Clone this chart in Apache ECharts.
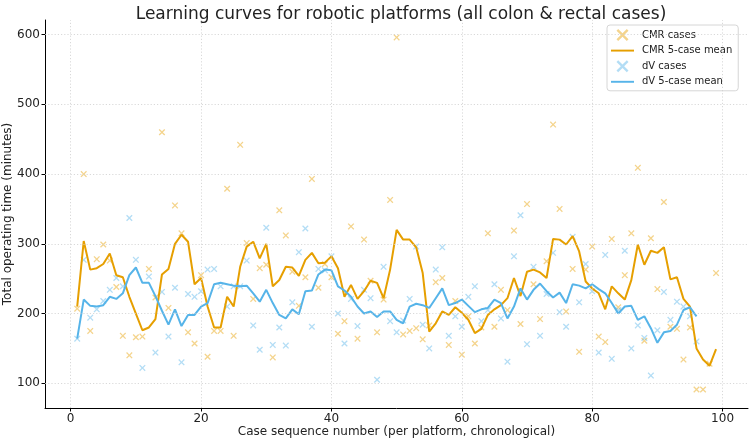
<!DOCTYPE html>
<html>
<head>
<meta charset="utf-8">
<script src="https://cdn.jsdelivr.net/npm/echarts@6/dist/echarts.min.js"></script>
<style>
  html, body { margin: 0; padding: 0; background: #fff; }
  #chart { width: 750px; height: 441px; }
</style>
</head>
<body>
<div id="chart"></div>
<script>
// operating time per case (case number = index + 1)
const cmrCases = [
  207, 400, 175, 278, 299, 276, 238, 168, 140, 166,
  167, 264, 223, 460, 208, 355, 315, 173, 157, 255,
  138, 175, 175, 379, 168, 442, 301, 221, 265, 270,
  137, 348, 312, 260, 211, 252, 393, 237, 271, 252,
  171, 189, 325, 164, 306, 247, 173, 220, 363, 596,
  170, 175, 179, 163, 183, 245, 251, 155, 218, 141,
  196, 157, 180, 315, 181, 234, 205, 319, 185, 357,
  242, 192, 275, 471, 350, 203, 264, 145, 263, 296,
  167, 159, 307, 209, 255, 315, 409, 161, 308, 235,
  360, 181, 178, 134, 180, 91, 91, 128, 258
];
const cmrMean = [
  210, 304, 263, 265, 271, 286, 255, 252, 224, 200,
  176, 180, 192, 256, 264, 300, 313, 303, 242, 251,
  210, 180, 180, 224, 210, 267, 296, 303, 279, 300,
  239, 248, 267, 266, 254, 277, 287, 272, 273, 282,
  265, 224, 241, 221, 232, 247, 244, 222, 263, 320,
  306, 306, 295, 258, 174, 186, 203, 198, 209, 201,
  191, 172, 178, 198, 206, 212, 222, 251, 225, 260,
  263, 259, 251, 307, 306, 299, 311, 289, 246, 236,
  229, 206, 239, 229, 220, 248, 299, 270, 290, 287,
  295, 249, 252, 221, 210, 150, 134, 125, 149
];
const dvCases = [
  164, 277, 194, 206, 218, 234, 251, 239, 337, 277,
  122, 253, 144, 231, 167, 237, 130, 228, 224, 232,
  263, 264, 239, 210, 239, 239, 276, 183, 148, 323,
  155, 180, 154, 216, 288, 322, 181, 264, 262, 282,
  200, 157, 221, 182, 234, 222, 105, 267, 189, 173,
  190, 221, 296, 184, 150, 263, 295, 168, 196, 181,
  224, 239, 189, 205, 242, 193, 131, 282, 341, 156,
  267, 168, 228, 287, 202, 181, 310, 216, 271, 232,
  144, 284, 135, 205, 290, 150, 183, 165, 111, 176,
  231, 191, 217, 210, 196, 160
];
const dvMean = [
  164, 220, 211, 210, 212, 224, 221, 229, 255, 266,
  244, 244, 225, 204, 184, 206, 182, 198, 198, 210,
  215, 242, 244, 242, 240, 239, 240, 229, 217, 234,
  215, 198, 193, 206, 199, 232, 233, 256, 263, 262,
  239, 233, 224, 210, 200, 203, 195, 203, 203, 191,
  186, 210, 214, 212, 208, 222, 236, 212, 215, 220,
  211, 202, 206, 208, 220, 215, 193, 210, 236, 220,
  234, 243, 232, 223, 230, 215, 242, 240, 236, 242,
  235, 229, 215, 200, 210, 211, 191, 196, 179, 158,
  173, 175, 184, 205, 209, 196
];
const xTicks = [0, 20, 40, 60, 80, 100];
const yTicks = [100, 200, 300, 400, 500, 600];

const ORANGE = '#E69F00';
const BLUE = '#56B4E9';
const FONT = 'DejaVu Sans';
const CROSS = 'path://M0,1.4 L1.4,0 L5,3.6 L8.6,0 L10,1.4 L6.4,5 L10,8.6 L8.6,10 L5,6.4 L1.4,10 L0,8.6 L3.6,5 Z';
const LINE_ICON = 'path://M0,4 L24,4 L24,6 L0,6 Z';

const toPoints = arr => arr.map((v, i) => [i + 1, v]);

const gridLine = { color: '#cfcfcf', width: 0.8, type: [1.2, 2] };
const gridMarks = [
  ...xTicks.map(v => ({ xAxis: v })),
  ...yTicks.map(v => ({ yAxis: v }))
];

const scatter = (name, data, color, extra = {}) => ({
  name,
  type: 'scatter',
  data: toPoints(data),
  symbol: CROSS,
  symbolSize: 6.5,
  symbolKeepAspect: true,
  itemStyle: { color, opacity: 0.45 },
  emphasis: { disabled: true },
  ...extra
});

const line = (name, data, color) => ({
  name,
  type: 'line',
  data: toPoints(data),
  symbol: 'none',
  showSymbol: false,
  lineStyle: { color, width: 2 },
  itemStyle: { color },
  emphasis: { disabled: true }
});

const axisBase = (ticks) => ({
  type: 'value',
  nameLocation: 'middle',
  nameMoveOverlap: false,
  nameTextStyle: { fontFamily: FONT, fontSize: 12, color: '#222' },
  axisLine: { show: true, onZero: false, lineStyle: { color: '#000', width: 1 } },
  axisTick: { show: true, length: 3.5, customValues: ticks, lineStyle: { color: '#000' } },
  axisLabel: { customValues: ticks, margin: 5, fontSize: 12, color: '#222', fontFamily: FONT },
  splitLine: { show: false }
});

const chart = echarts.init(document.getElementById('chart'), null, { renderer: 'canvas' });
chart.setOption({
  animation: false,
  backgroundColor: '#fff',
  textStyle: { fontFamily: FONT },
  title: {
    text: 'Learning curves for robotic platforms (all colon & rectal cases)',
    left: 396,
    textAlign: 'center',
    top: 1,
    textStyle: { fontFamily: FONT, fontSize: 17, fontWeight: 'normal', color: '#222' }
  },
  grid: {
    left: 45, right: 2, top: 20, bottom: 33,
    show: false,
    containLabel: false,
    outerBoundsMode: 'none'
  },
  xAxis: {
    ...axisBase(xTicks),
    min: -3.94,
    max: 103.9,
    name: 'Case sequence number (per platform, chronological)',
    nameGap: 18
  },
  yAxis: {
    ...axisBase(yTicks),
    min: 64.5,
    max: 621,
    name: 'Total operating time (minutes)',
    nameGap: 31
  },
  legend: {
    orient: 'vertical',
    left: 607,
    top: 25,
    padding: [4, 6, 4, 4],
    itemGap: 4.6,
    itemWidth: 23,
    itemHeight: 12,
    backgroundColor: 'rgba(255,255,255,0.85)',
    borderColor: '#d6d6d6',
    borderWidth: 1,
    borderRadius: 3,
    textStyle: { fontFamily: FONT, fontSize: 10, color: '#222', padding: [0, 0, 0, 3] },
    selectedMode: false,
    data: [
      { name: 'CMR cases', icon: CROSS, itemStyle: { color: ORANGE, opacity: 0.45 } },
      { name: 'CMR 5-case mean', icon: LINE_ICON },
      { name: 'dV cases', icon: CROSS, itemStyle: { color: BLUE, opacity: 0.45 } },
      { name: 'dV 5-case mean', icon: LINE_ICON }
    ]
  },
  series: [
    scatter('CMR cases', cmrCases, ORANGE, {
      markLine: {
        silent: true,
        symbol: 'none',
        label: { show: false },
        lineStyle: gridLine,
        emphasis: { disabled: true },
        data: gridMarks
      },
      z: 1
    }),
    line('CMR 5-case mean', cmrMean, ORANGE),
    scatter('dV cases', dvCases, BLUE),
    line('dV 5-case mean', dvMean, BLUE)
  ]
});
</script>
</body>
</html>
